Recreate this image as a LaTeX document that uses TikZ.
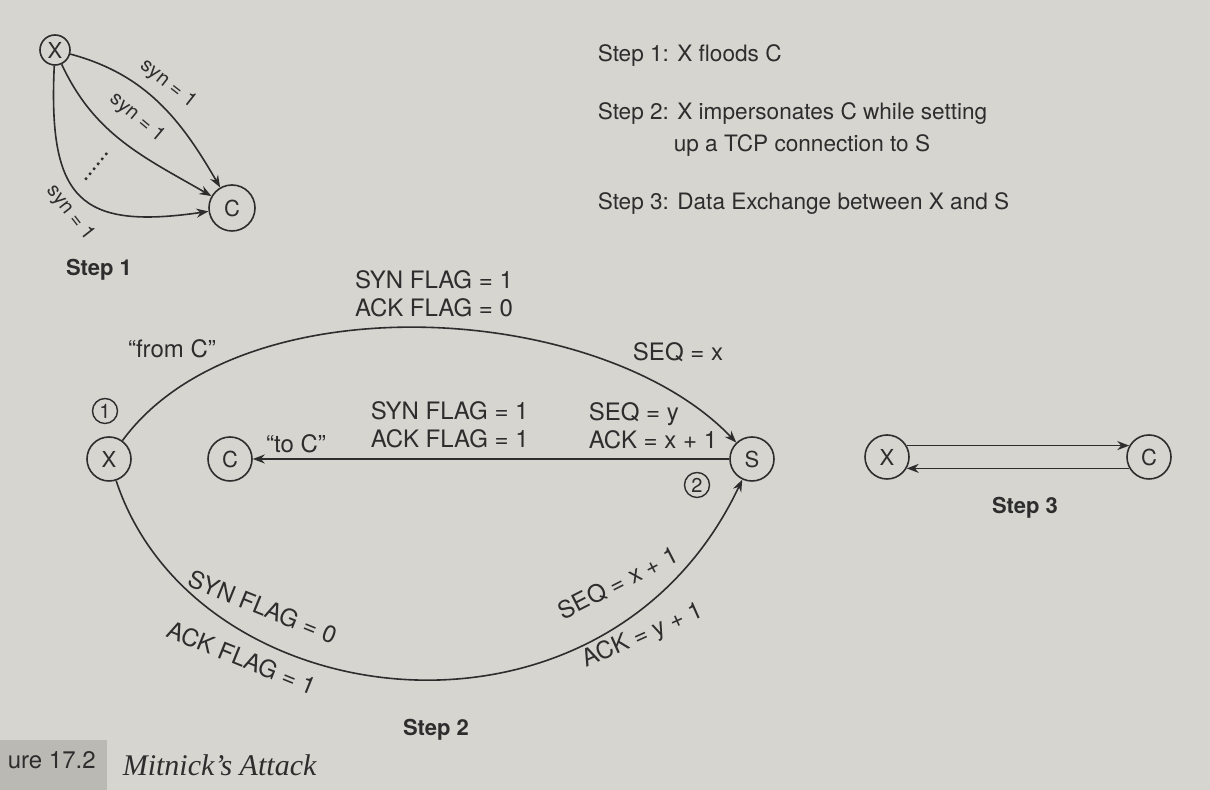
\documentclass[tikz,border=0pt]{standalone}
\usepackage{fontspec}
\setmainfont{TeX Gyre Heros}
\newfontfamily\capfont{Liberation Serif}
\usetikzlibrary{arrows.meta}

\definecolor{paper}{RGB}{214,213,208}
\definecolor{ink}{RGB}{45,45,45}
\definecolor{tabgray}{RGB}{186,185,180}

\tikzset{
  host/.style={circle, draw=ink, line width=0.8pt, minimum size=22pt, inner sep=0pt, text=ink, font=\fontsize{11}{13}\selectfont},
  tag/.style={circle, draw=ink, line width=0.7pt, minimum size=12.5pt, inner sep=0pt, text=ink, font=\fontsize{10}{12}\selectfont},
  flag/.style={inner sep=0pt, text=ink, align=left, font=\fontsize{12}{14}\selectfont},
  synlbl/.style={inner sep=0pt, text=ink, font=\fontsize{10}{12}\selectfont},
  steptext/.style={inner sep=0pt, anchor=base west, text=ink, font=\fontsize{11.3}{13.6}\selectfont},
  steptitle/.style={inner sep=0pt, text=ink, font=\bfseries\fontsize{11}{13}\selectfont},
}

\begin{document}
\begin{tikzpicture}[x=0.5pt, y=0.5pt, line width=0.8pt, draw=ink, >={Stealth[length=6pt, width=4.5pt]}]
\useasboundingbox (0,0) rectangle (1210,790);
\fill[paper] (0,0) rectangle (1210,790);

% Step 1: flooding
\node[host, minimum size=15pt] (x1) at (55,740) {X};
\node[host, minimum size=23pt] (c1) at (232,582) {C};
\draw[->] (x1) to[out=-15, in=120] (c1);
\draw[->] (x1) to[out=-65, in=150] (c1);
\draw[->] (x1) .. controls (48,590) and (80,560) .. (c1);
\draw[dotted, line width=1.2pt] (107,637) -- (85,610);
\node[synlbl, rotate=-38] (syna) at (168,706) {syn = 1};
\node[synlbl, rotate=-40] (synb) at (137,672) {syn = 1};
\node[synlbl, rotate=-52] (sync) at (70,577) {syn = 1};
\node[steptitle] (t1) at (99,520) {Step 1};

% Step descriptions
\node[steptext] (d1) at (597,728) {Step 1: X floods C};
\node[steptext] (d2) at (597,670) {Step 2: X impersonates C while setting};
\node[steptext] (d2b) at (673,638) {up a TCP connection to S};
\node[steptext] (d3) at (597,580) {Step 3: Data Exchange between X and S};

% Step 2: handshake
\node[host] (x2) at (109,331) {X};
\node[host] (c2) at (230,331) {C};
\node[host] (s2) at (752,331) {S};
\node[tag] (n1) at (105,379) {1};
\node[tag] (n2) at (697,305) {2};

\draw[->] (x2) .. controls (240,510) and (600,490) .. (s2);
\draw[->] (s2) -- (c2);
\draw[->] (x2) .. controls (195,70) and (605,20) .. (s2);

\node[flag, align=center] (f1) at (434,496.5) {SYN FLAG = 1\\ACK FLAG = 0};
\node[flag] (fromc) at (172,441.5) {“from C”};
\node[flag] (seqx) at (678,437.5) {SEQ = x};
\node[flag] (toc) at (296,346) {“to C”};
\node[flag, anchor=west] (f2) at (370,365.5) {SYN FLAG = 1\\ACK FLAG = 1};
\node[flag, anchor=west] (f3) at (588,364) {SEQ = y\\ACK = x + 1};
\node[flag, rotate=-22] (f4) at (263,183) {SYN FLAG = 0};
\node[flag, rotate=-22] (f5) at (242,132) {ACK FLAG = 1};
\node[flag, rotate=27] (f6) at (618,207) {SEQ = x + 1};
\node[flag, rotate=24] (f7) at (643,154) {ACK = y + 1};
\node[steptitle] (t2) at (436,60) {Step 2};

% Step 3: data exchange
\node[host] (x3) at (887,333) {X};
\node[host] (c3) at (1149,333) {C};
\draw[->] (x3.30) -- (c3.150);
\draw[->] (c3.-150) -- (x3.-30);
\node[steptitle] (t3) at (1025,282) {Step 3};

% Caption
\fill[tabgray] (0,0) rectangle (107,50);
\node[inner sep=0pt, anchor=west, text=ink, font=\fontsize{12}{14}\selectfont] (fig) at (7,30) {ure 17.2};
\node[inner sep=0pt, anchor=west, text=ink, font=\capfont\itshape\fontsize{15}{18}\selectfont] (cap) at (122,25) {Mitnick’s Attack};
\end{tikzpicture}
\end{document}
